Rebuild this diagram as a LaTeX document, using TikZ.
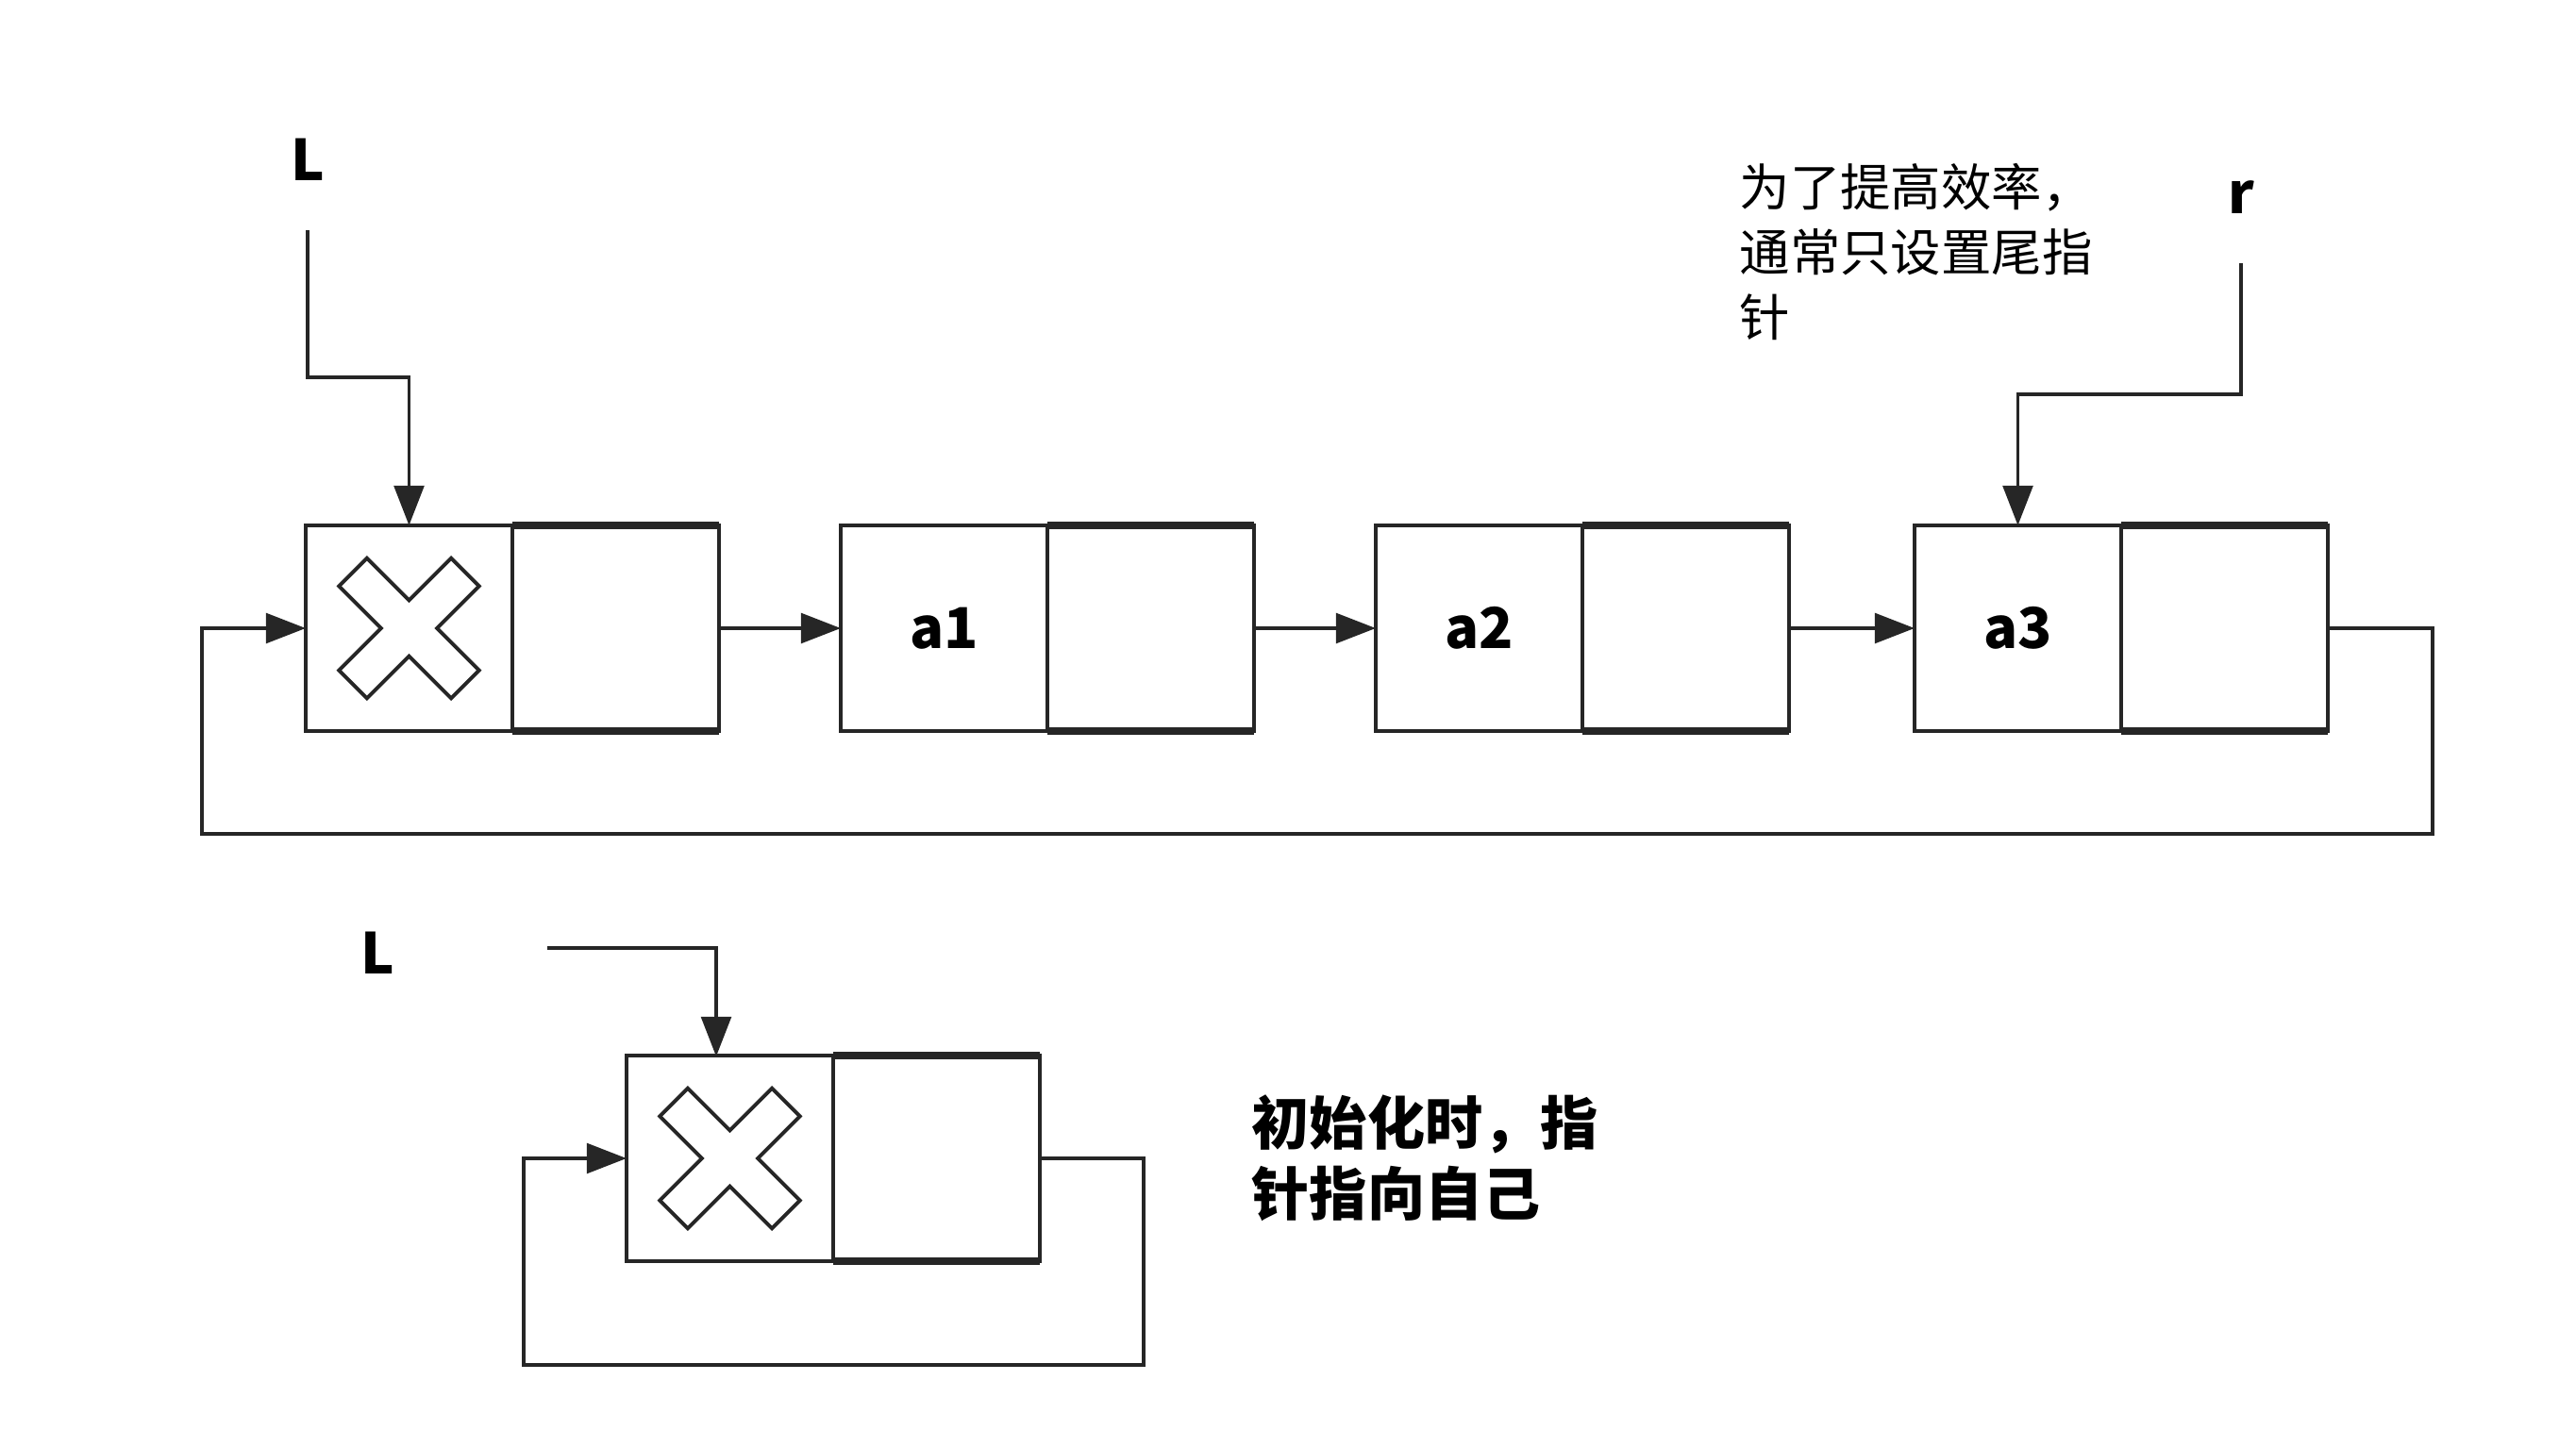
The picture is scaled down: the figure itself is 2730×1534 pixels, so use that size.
\documentclass[tikz,border=0pt]{standalone}
\usepackage{fontspec}
\setmainfont{Noto Sans CJK SC}
\newfontfamily\cjk{Noto Sans CJK SC}
\usetikzlibrary{arrows.meta,positioning}
\begin{document}
\begin{tikzpicture}[x=0.1mm,y=-0.1mm,
  cell/.style={draw=black!85, line width=1.2pt, minimum width=21.9mm, minimum height=21.8mm, inner sep=0pt, outer sep=0pt, font=\bfseries\fontsize{17pt}{20pt}\selectfont},
  link/.style={draw=black!85, line width=1.1pt, -{Triangle[length=12pt,width=9pt]}},
  thick/.style={draw=black!85, line width=2pt},
  lbl/.style={font=\bfseries\fontsize{17pt}{20pt}\selectfont, inner sep=0pt},
  xmark/.style={draw=black!85, line width=1.1pt, fill=white, line join=miter}
]
\useasboundingbox (0,0) rectangle (2730,1534);
\fill[white] (0,0) rectangle (2730,1534);

% top list
\node[cell] (n0d) at (433.5,666) {};
\node[cell, anchor=west] (n0p) at (n0d.east) {};
\node[cell] (n1d) at (1000.5,666) {a1};
\node[cell, anchor=west] (n1p) at (n1d.east) {};
\node[cell] (n2d) at (1567.5,666) {a2};
\node[cell, anchor=west] (n2p) at (n2d.east) {};
\node[cell] (n3d) at (2138.5,666) {a3};
\node[cell, anchor=west] (n3p) at (n3d.east) {};

\foreach \n in {n0p,n1p,n2p,n3p}{
  \draw[thick] (\n.north west) -- (\n.north east);
  \draw[thick] (\n.south west) -- (\n.south east);
}

% X mark in head node
\def\xa{84}\def\xb{21}
\draw[xmark, shift={(n0d.center)}, rotate=45]
  (\xb,\xb) -- (\xa,\xb) -- (\xa,-\xb) -- (\xb,-\xb) -- (\xb,-\xa) -- (-\xb,-\xa) -- (-\xb,-\xb)
  -- (-\xa,-\xb) -- (-\xa,\xb) -- (-\xb,\xb) -- (-\xb,\xa) -- (\xb,\xa) -- cycle;

\draw[link] (n0p.east) -- (n1d.west);
\draw[link] (n1p.east) -- (n2d.west);
\draw[link] (n2p.east) -- (n3d.west);

\coordinate (loopR) at (2578,884);
\coordinate (loopL) at (214,884);
\draw[link] (n3p.east) -| (loopR) -- (loopL) |- (n0d.west);

% L pointer
\node[lbl] (L1) at (326,169) {L};
\coordinate (L1s) at (326,244);
\coordinate (L1b) at (326,400);
\draw[link] (L1s) -- (L1b) -| (n0d.north);

% r pointer
\node[lbl] (r1) at (2375,209) {r};
\coordinate (r1s) at (2375,279);
\coordinate (r1b) at (2375,418);
\draw[link] (r1s) -- (r1b) -| (n3d.north);

% note top
\node[anchor=north west, inner sep=0pt, align=left, font=\fontsize{15.2pt}{19.5pt}\selectfont] (note1) at (1843,173)
  {为了提高效率，\\通常只设置尾指\\针};

% bottom single node
\node[cell] (n4d) at (773.5,1228) {};
\node[cell, anchor=west] (n4p) at (n4d.east) {};
\draw[thick] (n4p.north west) -- (n4p.north east);
\draw[thick] (n4p.south west) -- (n4p.south east);
\draw[xmark, shift={(n4d.center)}, rotate=45]
  (\xb,\xb) -- (\xa,\xb) -- (\xa,-\xb) -- (\xb,-\xb) -- (\xb,-\xa) -- (-\xb,-\xa) -- (-\xb,-\xb)
  -- (-\xa,-\xb) -- (-\xa,\xb) -- (-\xb,\xb) -- (-\xb,\xa) -- (\xb,\xa) -- cycle;

\node[lbl] (L2) at (400,1010) {L};
\coordinate (L2s) at (580,1005);
\coordinate (L2e) at (759,1120);
\draw[link] (L2s) -| (L2e);

\coordinate (b4R) at (1212,1447);
\coordinate (b4L) at (555,1447);
\draw[link] (n4p.east) -| (b4R) -- (b4L) |- (n4d.west);

\node[anchor=north west, inner sep=0pt, align=left, font=\bfseries\fontsize{17.4pt}{21.3pt}\selectfont] (note2) at (1326,1160)
  {初始化时，指\\针指向自己};
\end{tikzpicture}
\end{document}
